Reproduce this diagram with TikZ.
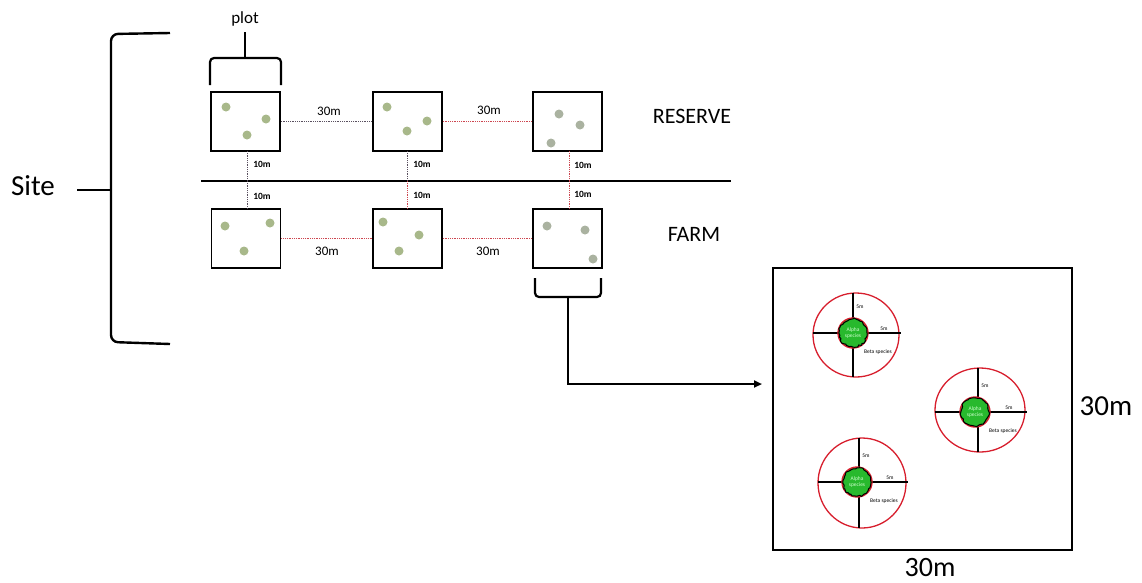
\documentclass[tikz,border=0pt]{standalone}
\usepackage{fontspec}
\setmainfont{Carlito}
\usetikzlibrary{arrows.meta,shapes.geometric,decorations.pathmorphing}
\definecolor{dotc}{RGB}{168,184,138}
\definecolor{dotg}{RGB}{170,178,160}
\definecolor{conr}{RGB}{205,70,80}
\definecolor{cond}{RGB}{90,80,95}
\definecolor{blobg}{RGB}{40,185,45}
\definecolor{ringr}{RGB}{215,30,45}
\tikzset{
  plotbox/.style={draw=black, line width=1.6pt, minimum width=69pt, minimum height=59pt, inner sep=0pt},
  tree/.style={fill=dotc, draw=none},
  treeg/.style={fill=dotg, draw=none},
  dconn/.style={draw=cond, densely dotted, line width=0.8pt},
  rconn/.style={draw=conr, densely dotted, line width=0.8pt},
  dist/.style={font=\fontsize{13}{13}\selectfont},
  tiny/.style={font=\bfseries\fontsize{9.5}{10}\selectfont},
  bracket/.style={line width=2.2pt, rounded corners=4pt},
  outer/.style={draw=ringr, line width=1.3pt, ellipse, inner sep=0pt},
  cross/.style={line width=1.7pt},
  micro/.style={font=\fontsize{5.5}{6}\selectfont, inner sep=0pt, align=center}
}
\newcommand{\samplecirc}[8]{%
  % #1 name, #2 x, #3 y, #4 width, #5 height, #6 blob x, #7 blob y, #8 cross x
  \node[outer, minimum width=#4pt, minimum height=#5pt] (#1) at (#2,#3) {};
  \coordinate (#1n) at (#8,#3-#5/2);
  \coordinate (#1s) at (#8,#3+#5/2);
  \coordinate (#1w) at (#2-#4/2,#7);
  \coordinate (#1e) at (#2+#4/2+2,#7);
  \draw[cross] (#1n) -- (#1s);
  \draw[cross] (#1w) -- (#1e);
  \draw[ringr, line width=1.4pt, fill=blobg] (#6,#7) circle (15pt);
  \draw[black, line width=1pt, fill=blobg, decorate, decoration={random steps, segment length=2pt, amplitude=0.9pt}] (#6,#7) circle (14pt);
  \node[micro, text=white!80!green] (#1a) at (#6,#7) {Alpha\\species};
  \node[micro] (#1b) at (#8+25,#7+19) {Beta species};
  \node[micro] (#1m1) at (#8+7,#7-26) {5m};
  \node[micro] (#1m2) at (#8+31,#7-4) {5m};
}
\begin{document}
\begin{tikzpicture}[x=1pt,y=-1pt]
\pgfmathsetseed{7}
\useasboundingbox (0,0) rectangle (1142,582);

% plots
\node[plotbox] (r1) at (245.5,121.5) {};
\node[plotbox] (r2) at (407.5,121.5) {};
\node[plotbox] (r3) at (567.5,121.5) {};
\node[plotbox] (f1) at (246,238.5) {};
\node[plotbox] (f2) at (407.5,238.5) {};
\node[plotbox] (f3) at (567.5,238.5) {};

% trees
\fill[tree] (226,107) circle (4.5pt) (266,119) circle (4.5pt) (247,135) circle (4.5pt);
\fill[tree] (387,107) circle (4.5pt) (427,121) circle (4.5pt) (407,131) circle (4.5pt);
\fill[treeg] (559,114) circle (4.5pt) (580,125) circle (4.5pt) (551,143) circle (4.5pt);
\fill[tree] (225,226) circle (4.5pt) (270,223) circle (4.5pt) (244,251) circle (4.5pt);
\fill[tree] (383,222) circle (4.5pt) (419,235) circle (4.5pt) (399,251) circle (4.5pt);
\fill[treeg] (547,226) circle (4.5pt) (585,230) circle (4.5pt) (593,259) circle (4.5pt);

% divider
\coordinate (divL) at (201,181);
\coordinate (divR) at (731,181);
\draw[line width=1.6pt] (divL) -- (divR);

% horizontal connectors
\draw[dconn] (r1.east) -- (r2.west);
\draw[rconn] (r2.east) -- (r3.west);
\draw[rconn] (f1.east) -- (f2.west);
\draw[rconn] (f2.east) -- (f3.west);
\node[dist] (t1) at (329,111) {30m};
\node[dist] (t2) at (489,110) {30m};
\node[dist] (t3) at (327,251) {30m};
\node[dist] (t4) at (488,251) {30m};

% vertical connectors
\coordinate (v1a) at (247,151); \coordinate (v1m) at (247,181); \coordinate (v1b) at (247,209);
\coordinate (v2a) at (407,151); \coordinate (v2m) at (407,181); \coordinate (v2b) at (407,209);
\coordinate (v3a) at (569,151); \coordinate (v3m) at (569,181); \coordinate (v3b) at (569,209);
\draw[dconn] (v1a) -- (v1m); \draw[dconn] (v1m) -- (v1b);
\draw[dconn] (v2a) -- (v2m); \draw[rconn] (v2m) -- (v2b);
\draw[rconn] (v3a) -- (v3m); \draw[rconn] (v3m) -- (v3b);
\node[tiny] (u1) at (262,164) {10m};
\node[tiny] (u2) at (262,196) {10m};
\node[tiny] (u3) at (422,164) {10m};
\node[tiny] (u4) at (422,195) {10m};
\node[tiny] (u5) at (583,165) {10m};
\node[tiny] (u6) at (583,194) {10m};

% labels
\node[font=\fontsize{22}{22}\selectfont] (reserve) at (692,116) {RESERVE};
\node[font=\fontsize{22}{22}\selectfont] (farm) at (694,234) {FARM};

% plot bracket
\node[font=\fontsize{17}{17}\selectfont] (plotlbl) at (245,19) {plot};
\draw[bracket] (210,85) -- (210,58) -- (281,58) -- (281,85);
\draw[line width=2.2pt] (245,58) -- (245,32);

% site bracket
\node[font=\fontsize{29}{29}\selectfont] (site) at (33,186) {Site};
\draw[line width=2.4pt, rounded corners=7pt] (170,33) -- (111,34) -- (111,342) -- (170,344);
\coordinate (siteR) at (111,190);
\draw[line width=2.2pt] (77,190) -- (siteR);

% farm plot bracket + arrow
\draw[bracket] (535,278) -- (535,297) -- (601,297) -- (601,278);
\coordinate (fbs) at (568,297);
\coordinate (arrowend) at (762,384);
\draw[line width=2.2pt, -{Triangle[length=8pt,width=7pt]}] (fbs) |- (arrowend);

% zoom box
\node[draw, line width=2.8pt, minimum width=299pt, minimum height=282pt, inner sep=0pt] (zoom) at (922.5,409) {};
\node[font=\fontsize{29}{29}\selectfont] (side) at (1106,406) {30m};
\node[font=\fontsize{28}{28}\selectfont] (bottom) at (930,567) {30m};

% sample circles
\samplecirc{c1}{856}{335}{86}{84}{853}{333}{853}
\samplecirc{c2}{980}{410}{90}{84}{975}{412}{978}
\samplecirc{c3}{862}{483}{88}{90}{857}{482}{859}
\end{tikzpicture}
\end{document}
